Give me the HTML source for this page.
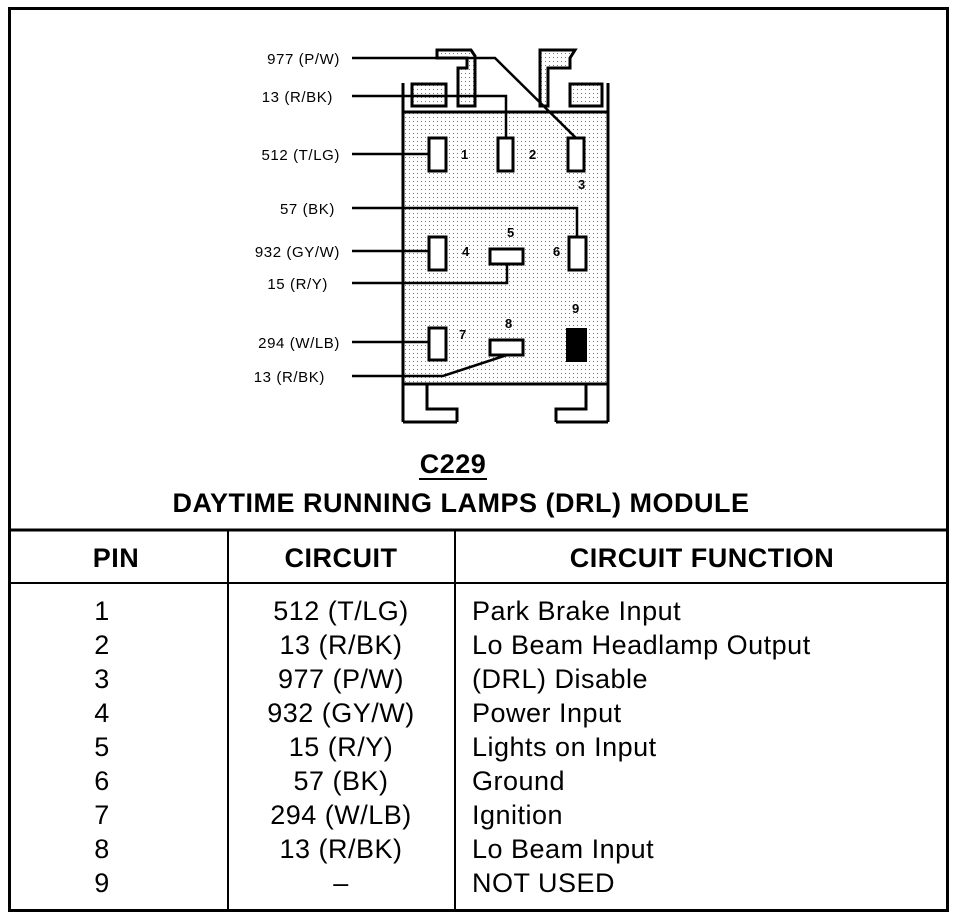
<!DOCTYPE html>
<html><head><meta charset="utf-8"><style>
html,body{margin:0;padding:0;background:#fff;}
svg{display:block}
</style></head><body>
<svg width="960" height="918" viewBox="0 0 960 918" xmlns="http://www.w3.org/2000/svg" font-family="Liberation Sans, Arial, sans-serif">
<defs>
<pattern id="dots" width="4" height="4" patternUnits="userSpaceOnUse">
<rect width="4" height="4" fill="#fff"/><rect x="1" y="1" width="1" height="1" fill="#777"/>
</pattern>
</defs>
<rect x="9.5" y="8.5" width="938" height="902" fill="none" stroke="#000" stroke-width="3"/>
<line x1="9" y1="530" x2="948" y2="530" stroke="#000" stroke-width="3"/>
<line x1="9" y1="583" x2="948" y2="583" stroke="#000" stroke-width="2"/>
<line x1="228" y1="530" x2="228" y2="910" stroke="#000" stroke-width="2"/>
<line x1="455" y1="530" x2="455" y2="910" stroke="#000" stroke-width="2"/>

<rect x="403" y="112" width="205" height="272" fill="url(#dots)"/>
<g fill="url(#dots)" stroke="#000" stroke-width="3">
<path d="M437 50 L437 58 L467 58 L467 68 L458 68 L458 106 L475 106 L475 56 L471 50 Z"/>
<path d="M540 50 L540 106 L548 106 L548 68 L570 68 L570 58 L575 50 Z"/>
<rect x="412" y="84" width="34" height="22"/>
<rect x="570" y="84" width="32" height="22"/>
</g>
<g fill="none" stroke="#000" stroke-width="3">
<line x1="403" y1="83" x2="403" y2="422"/>
<line x1="608" y1="83" x2="608" y2="422"/>
<line x1="403" y1="112" x2="608" y2="112"/>
<line x1="403" y1="384" x2="608" y2="384"/>
<path d="M427 384 L427 409 L457 409 L457 422"/>
<path d="M586 384 L586 409 L556 409 L556 422"/>
<line x1="403" y1="422" x2="457" y2="422"/>
<line x1="556" y1="422" x2="608" y2="422"/>
</g>
<g fill="#fff" stroke="#000" stroke-width="3">
<rect x="429" y="138" width="17" height="33"/>
<rect x="498" y="138" width="15" height="33"/>
<rect x="568" y="138" width="16" height="33"/>
<rect x="429" y="237" width="17" height="33"/>
<rect x="490" y="249" width="33" height="15"/>
<rect x="569" y="237" width="17" height="33"/>
<rect x="429" y="328" width="17" height="32"/>
<rect x="490" y="340" width="33" height="15"/>
</g>
<rect x="566" y="328" width="21" height="34" fill="#000"/>
<g fill="none" stroke="#000" stroke-width="2.5">
<path d="M352 58 L495 58 L576 138"/>
<path d="M352 96 L506 96 L506 138"/>
<line x1="352" y1="154" x2="429" y2="154"/>
<path d="M352 208 L577 208 L577 237"/>
<line x1="352" y1="251" x2="429" y2="251"/>
<path d="M352 283 L507 283 L507 264"/>
<line x1="352" y1="342" x2="429" y2="342"/>
<path d="M352 376 L443 376 L507 355"/>
</g>
<g font-size="13" font-weight="bold" fill="#000">
<text x="461" y="159">1</text><text x="529" y="159">2</text><text x="578" y="189">3</text>
<text x="462" y="256">4</text><text x="507" y="237">5</text><text x="553" y="256">6</text>
<text x="459" y="339">7</text><text x="505" y="328">8</text><text x="572" y="313">9</text>
</g>
<g font-size="15" fill="#000" text-anchor="end" letter-spacing="0.6">
<text x="340" y="64">977 (P/W)</text>
<text x="333" y="102">13 (R/BK)</text>
<text x="340" y="160">512 (T/LG)</text>
<text x="335" y="214">57 (BK)</text>
<text x="340" y="257">932 (GY/W)</text>
<text x="328" y="289">15 (R/Y)</text>
<text x="340" y="348">294 (W/LB)</text>
<text x="325" y="382">13 (R/BK)</text>
</g>
<g font-weight="bold" fill="#000" text-anchor="middle" font-size="27" letter-spacing="0.5">
<text x="453" y="473">C229</text>
<text x="461" y="512">DAYTIME RUNNING LAMPS (DRL) MODULE</text>
<text x="116" y="567">PIN</text>
<text x="341" y="567">CIRCUIT</text>
<text x="702" y="567">CIRCUIT FUNCTION</text>
</g>
<line x1="419" y1="479" x2="487" y2="479" stroke="#000" stroke-width="2"/>
<g font-size="27" fill="#000" letter-spacing="0.5">
<g text-anchor="middle">
<text x="102" y="620">1</text><text x="341" y="620">512 (T/LG)</text>
<text x="102" y="654">2</text><text x="341" y="654">13 (R/BK)</text>
<text x="102" y="688">3</text><text x="341" y="688">977 (P/W)</text>
<text x="102" y="722">4</text><text x="341" y="722">932 (GY/W)</text>
<text x="102" y="756">5</text><text x="341" y="756">15 (R/Y)</text>
<text x="102" y="790">6</text><text x="341" y="790">57 (BK)</text>
<text x="102" y="824">7</text><text x="341" y="824">294 (W/LB)</text>
<text x="102" y="858">8</text><text x="341" y="858">13 (R/BK)</text>
<text x="102" y="892">9</text><text x="341" y="892">–</text>
</g>
<text x="472" y="620">Park Brake Input</text>
<text x="472" y="654">Lo Beam Headlamp Output</text>
<text x="472" y="688">(DRL) Disable</text>
<text x="472" y="722">Power Input</text>
<text x="472" y="756">Lights on Input</text>
<text x="472" y="790">Ground</text>
<text x="472" y="824">Ignition</text>
<text x="472" y="858">Lo Beam Input</text>
<text x="472" y="892">NOT USED</text>
</g>
</svg>
</body></html>
